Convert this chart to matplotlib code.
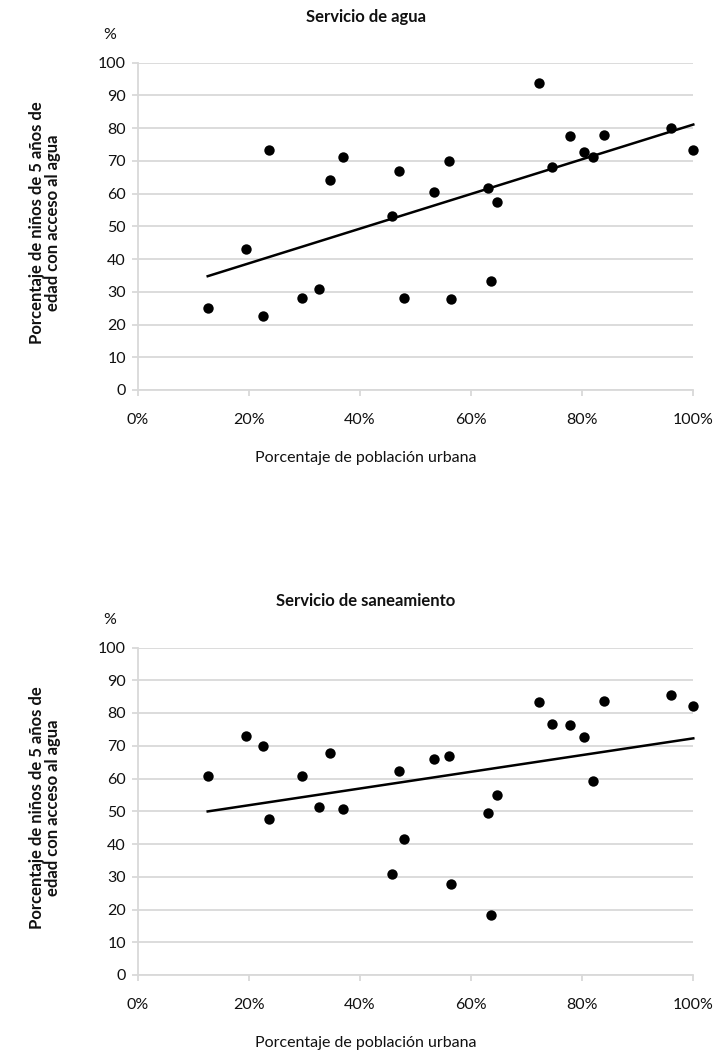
import numpy as np
import matplotlib
matplotlib.use("Agg")
import matplotlib.pyplot as plt
from matplotlib.ticker import FuncFormatter

plt.rcParams['font.family'] = ['Lato', 'DejaVu Sans']

# Porcentaje de población urbana (%)
urbana = [12.6, 19.5, 22.6, 23.6, 29.6, 32.6, 34.6, 37.0, 45.8, 47.0, 47.9,
          53.3, 56.0, 56.4, 63.0, 63.6, 64.6, 72.2, 74.6, 77.8, 80.3, 82.0,
          84.0, 95.9, 100.0]

# Servicio de agua (%)
agua = [25.0, 43.1, 22.7, 73.3, 28.1, 30.9, 64.2, 71.3, 53.1, 66.9, 28.2,
        60.4, 70.1, 27.9, 61.8, 33.4, 57.5, 93.7, 68.0, 77.7, 72.6, 71.1,
        77.8, 80.0, 73.2]

# Servicio de saneamiento (%)
saneamiento = [60.9, 73.0, 70.0, 47.7, 60.9, 51.3, 67.7, 50.8, 30.8, 62.2, 41.4,
               66.1, 66.9, 27.7, 49.5, 18.3, 55.1, 83.3, 76.7, 76.4, 72.6, 59.2,
               83.6, 85.4, 82.2]

titulos = ["Servicio de agua", "Servicio de saneamiento"]
xticks = [0, 20, 40, 60, 80, 100]
yticks = list(range(0, 101, 10))
ylabel = "Porcentaje de niños de 5 años de\nedad con acceso al agua"
xlabel = "Porcentaje de población urbana"

W, H = 717, 1061
fig = plt.figure(figsize=(W / 100, H / 100), dpi=100)

grid_c = "#d9d9d9"
txt_c = "#111111"
FS = 11.5

def fx(px):
    return px / W

def fy(py):
    return 1 - py / H

panels = [
    dict(top=62.7, bottom=390.0, y=agua),
    dict(top=647.5, bottom=975.0, y=saneamiento),
]

for i, p in enumerate(panels):
    ax = fig.add_axes([fx(137.7), fy(p['bottom']), fx(693.3) - fx(137.7),
                       fy(p['top']) - fy(p['bottom'])])
    x = np.array(urbana)
    y = np.array(p['y'])
    ax.scatter(x, y, s=56, color='black', zorder=3, linewidths=0, clip_on=False)
    m, b = np.polyfit(x, y, 1)
    xs = np.array([x.min(), x.max()])
    ax.plot(xs, m * xs + b, color='black', lw=1.8, zorder=2, clip_on=False)

    ax.set_xlim(0, 100)
    ax.set_ylim(0, 100)
    ax.set_xticks(xticks)
    ax.set_yticks(yticks)
    ax.xaxis.set_major_formatter(FuncFormatter(lambda v, pos: f"{int(v)}%"))
    ax.yaxis.grid(True, color=grid_c, lw=1.3)
    ax.set_axisbelow(True)
    for s in ['top', 'right']:
        ax.spines[s].set_visible(False)
    for s in ['left', 'bottom']:
        ax.spines[s].set_color(grid_c)
        ax.spines[s].set_linewidth(1.3)
    ax.tick_params(axis='both', colors=grid_c, labelcolor=txt_c, labelsize=FS,
                   length=4.5, width=1.3)
    ax.tick_params(axis='x', pad=12)
    ax.tick_params(axis='y', pad=4)

    # title
    fig.text(fx(366), fy(p['top'] - 46), titulos[i], ha='center', va='center',
             fontsize=12, fontweight='bold', color=txt_c)
    fig.text(fx(110), fy(p['top'] - 28), "%", ha='center', va='center',
             fontsize=FS, color=txt_c)
    # y label
    fig.text(fx(45), fy((p['top'] + p['bottom']) / 2 - 4), ylabel, rotation=90,
             ha='center', va='center', multialignment='center',
             fontsize=12, fontweight='bold', color=txt_c, linespacing=1.0)
    # x label
    fig.text(fx(366), fy(p['bottom'] + 68), xlabel, ha='center', va='center',
             fontsize=FS, color=txt_c)

fig.savefig("out.png", dpi=100)
